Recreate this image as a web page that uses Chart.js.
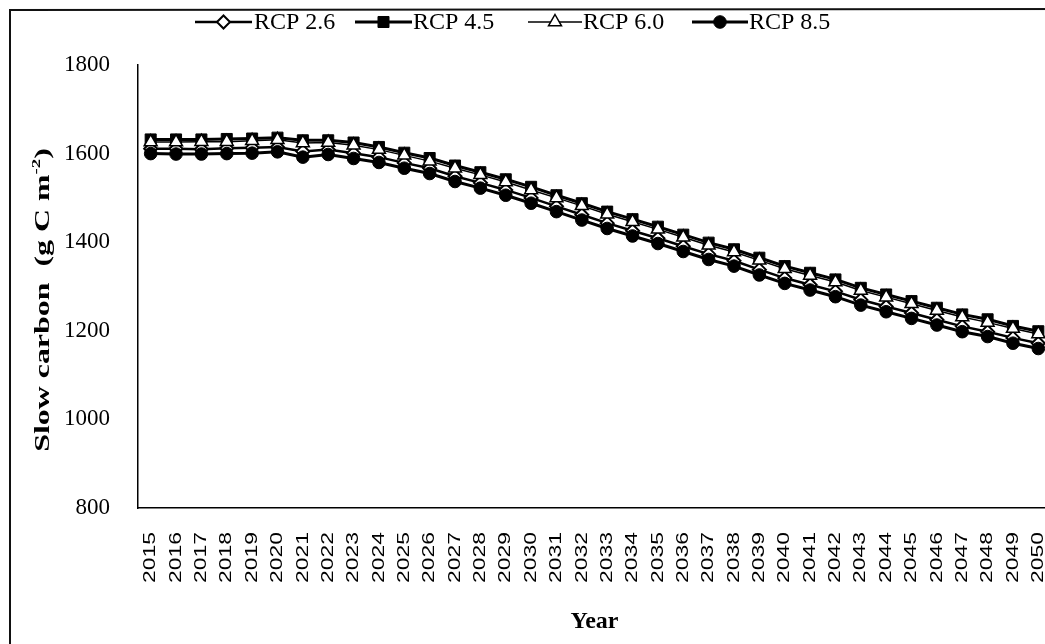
<!DOCTYPE html>
<html>
<head>
<meta charset="utf-8">
<script src="https://cdn.jsdelivr.net/npm/chart.js@4"></script>
<style>
  html, body { margin: 0; padding: 0; background: #fff; overflow: hidden; width: 1045px; height: 644px; }
  #wrap { position: relative; width: 1045px; height: 644px; overflow: hidden; }
  canvas { position: absolute; left: 0; top: 0; }
</style>
</head>
<body>
<div id="wrap"><canvas id="c" width="1080" height="644"></canvas></div>
<script>
// Simulated slow carbon pool (g C m-2), 2015-2050, under four RCP scenarios
const years = ['2015','2016','2017','2018','2019','2020','2021','2022','2023','2024','2025','2026',
  '2027','2028','2029','2030','2031','2032','2033','2034','2035','2036','2037','2038',
  '2039','2040','2041','2042','2043','2044','2045','2046','2047','2048','2049','2050'];

const rcp26 = [1611,1611,1610,1612,1613,1615,1605,1609,1601,1592,1579,1567,
  1549,1534,1518,1500,1481,1462,1443,1426,1409,1391,1373,1358,
  1338,1319,1304,1289,1270,1255,1240,1225,1210,1198,1184,1172];

const rcp45 = [1632,1632,1632,1633,1634,1636,1630,1630,1625,1615,1602,1590,
  1573,1558,1542,1525,1506,1488,1469,1452,1435,1417,1399,1384,
  1365,1346,1331,1316,1297,1282,1267,1252,1237,1226,1211,1199];

const rcp60 = [1626,1626,1627,1627,1629,1631,1624,1625,1619,1609,1596,1583,
  1567,1552,1536,1518,1500,1482,1463,1446,1429,1411,1393,1378,
  1359,1340,1325,1310,1291,1276,1261,1246,1231,1219,1205,1193];

const rcp85 = [1600,1599,1599,1600,1601,1604,1592,1598,1589,1580,1567,1555,
  1537,1522,1506,1488,1469,1450,1431,1414,1397,1379,1361,1346,
  1326,1307,1292,1277,1258,1243,1228,1213,1198,1187,1172,1160];

const yTicks = [800, 1000, 1200, 1400, 1600, 1800];
const seriesNames = ['RCP 2.6', 'RCP 4.5', 'RCP 6.0', 'RCP 8.5'];

const SERIF = '"Liberation Serif", "Times New Roman", serif';
const SANS = '"Liberation Sans", Arial, sans-serif';

// Frame, legend row, rotated year labels and axis titles
const decorations = {
  id: 'decorations',
  afterDraw(chart) {
    const ctx = chart.ctx;
    ctx.save();

    // outer frame (left and top edges)
    ctx.strokeStyle = '#111';
    ctx.lineWidth = 2;
    ctx.beginPath();
    ctx.moveTo(10, 700);
    ctx.lineTo(10, 10);
    ctx.lineTo(1080, 9);
    ctx.stroke();

    // legend: line sample with marker, then label
    const legendY = 22;
    const layout = [
      { x0: 195, x1: 252, tx: 254 },
      { x0: 355, x1: 412, tx: 413 },
      { x0: 528, x1: 582, tx: 583 },
      { x0: 692, x1: 748, tx: 749 }
    ];
    chart.data.datasets.forEach((ds, i) => {
      const L = layout[i];
      ctx.strokeStyle = '#000';
      ctx.lineWidth = ds.borderWidth;
      ctx.beginPath();
      ctx.moveTo(L.x0, legendY);
      ctx.lineTo(L.x1, legendY);
      ctx.stroke();
      ctx.fillStyle = ds.pointBackgroundColor;
      ctx.strokeStyle = '#000';
      ctx.lineWidth = ds.pointBorderWidth;
      Chart.helpers.drawPoint(ctx, {
        pointStyle: ds.pointStyle,
        radius: ds.pointRadius,
        borderWidth: ds.pointBorderWidth,
        rotation: 0
      }, (L.x0 + L.x1) / 2, legendY);
      ctx.fillStyle = '#000';
      ctx.font = '24px ' + SERIF;
      ctx.textBaseline = 'middle';
      ctx.textAlign = 'left';
      ctx.fillText(ds.label, L.tx, legendY + 1);
    });
    ctx.restore();

    // year labels, rotated and drawn at the category positions of the x scale
    const xs = chart.scales.x;
    ctx.save();
    ctx.fillStyle = '#000';
    ctx.font = '17px ' + SANS;
    ctx.textAlign = 'right';
    ctx.textBaseline = 'middle';
    chart.data.labels.forEach((lab, i) => {
      const px = xs.getPixelForValue(i);
      ctx.save();
      ctx.translate(px, chart.chartArea.bottom + 24);
      ctx.rotate(-Math.PI / 2);
      ctx.scale(1.35, 1);
      ctx.fillText(lab, 0, 0);
      ctx.restore();
    });
    ctx.restore();

    // y axis title: "Slow carbon  (g C m-2)" with raised -2
    ctx.save();
    ctx.translate(42, 300);
    ctx.rotate(-Math.PI / 2);
    ctx.scale(1.45, 1);
    ctx.fillStyle = '#000';
    ctx.textBaseline = 'alphabetic';
    ctx.textAlign = 'left';
    const big = 'bold 22px ' + SERIF;
    const small = 'bold 13px ' + SERIF;
    const p1 = 'Slow carbon  (g C m';
    const p2 = '-2';
    const p3 = ')';
    ctx.font = big; const w1 = ctx.measureText(p1).width; const w3 = ctx.measureText(p3).width;
    ctx.font = small; const w2 = ctx.measureText(p2).width;
    let x = -(w1 + w2 + w3) / 2;
    const base = 7;
    ctx.font = big; ctx.fillText(p1, x, base); x += w1;
    ctx.font = small; ctx.fillText(p2, x, base - 9); x += w2;
    ctx.font = big; ctx.fillText(p3, x, base);
    ctx.restore();

    // x axis title
    ctx.save();
    ctx.fillStyle = '#000';
    ctx.font = 'bold 24px ' + SERIF;
    ctx.textAlign = 'center';
    ctx.textBaseline = 'alphabetic';
    ctx.fillText('Year', (chart.chartArea.left + chart.chartArea.right) / 2, 628);
    ctx.restore();
  }
};

function series(label, data, style, radius, fill, lineW, ptBorder, order) {
  return {
    label, data, order,
    borderColor: '#000',
    backgroundColor: fill,
    borderWidth: lineW,
    pointStyle: style,
    pointRadius: radius,
    pointHoverRadius: radius,
    pointBackgroundColor: fill,
    pointBorderColor: '#000',
    pointBorderWidth: ptBorder,
    tension: 0,
    fill: false
  };
}

new Chart(document.getElementById('c'), {
  type: 'line',
  data: {
    labels: years,
    datasets: [
      series(seriesNames[0], rcp26, 'rectRot', 6.5, '#fff', 2.5, 2, 3),
      series(seriesNames[1], rcp45, 'rect', 7.8, '#000', 3, 1, 2),
      series(seriesNames[2], rcp60, 'triangle', 7.5, '#fff', 1.5, 1.5, 1),
      series(seriesNames[3], rcp85, 'circle', 6.3, '#000', 3, 1, 0)
    ]
  },
  options: {
    responsive: false,
    animation: false,
    events: [],
    layout: { padding: { top: 65, left: 0, right: 29, bottom: 0 } },
    plugins: { legend: { display: false }, tooltip: { enabled: false } },
    scales: {
      x: {
        type: 'category',
        offset: true,
        grid: { display: false, drawTicks: false },
        border: { display: true, color: '#000', width: 1.5 },
        ticks: { display: false, autoSkip: false },
        afterFit(scale) {
          scale.height = 644 - 508;
          scale.paddingLeft = 0;
          scale.paddingRight = 0;
        }
      },
      y: {
        min: 800,
        max: 1800,
        grid: { display: false, drawTicks: false },
        border: { display: true, color: '#000', width: 1.5 },
        afterBuildTicks(scale) {
          scale.ticks = yTicks.map(v => ({ value: v }));
        },
        ticks: {
          padding: 28,
          color: '#000',
          font: { family: SERIF, size: 23 },
          callback: (v) => String(v)
        },
        afterFit(scale) {
          scale.width = 138;
          scale.paddingTop = 0;
          scale.paddingBottom = 0;
        }
      }
    }
  },
  plugins: [decorations]
});
</script>
</body>
</html>
